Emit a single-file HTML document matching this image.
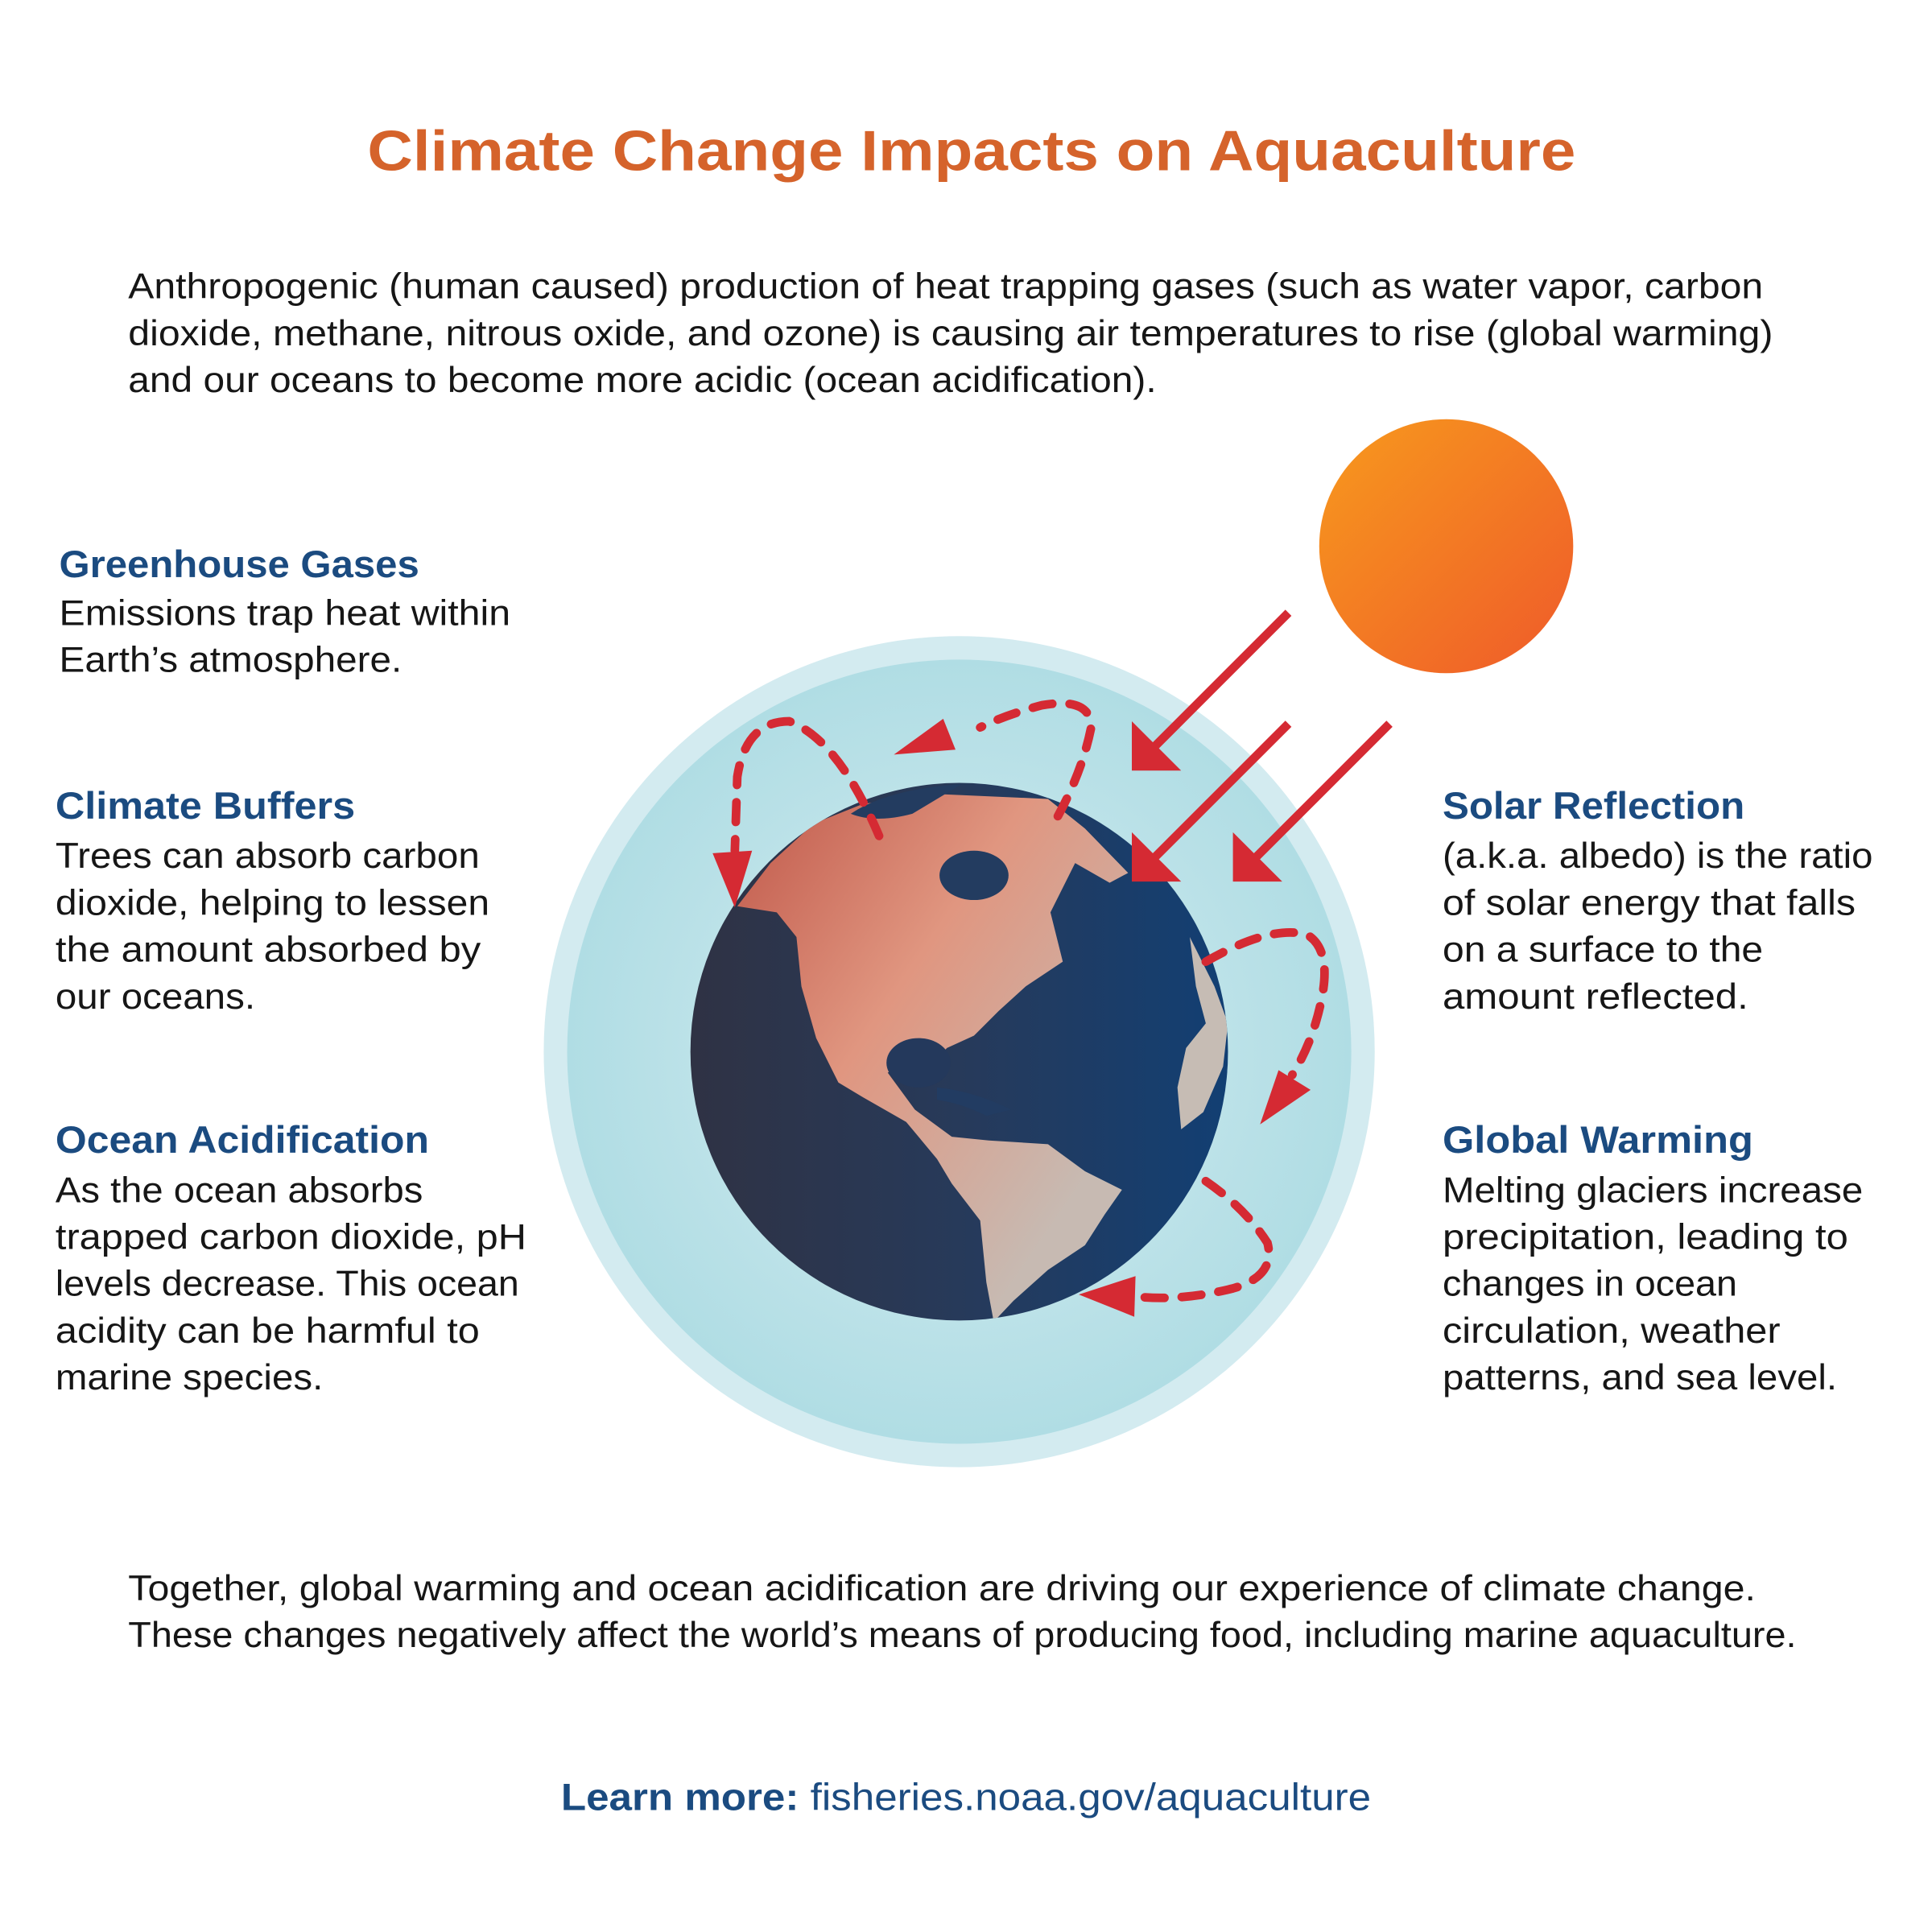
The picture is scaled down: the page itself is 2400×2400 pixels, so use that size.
<!DOCTYPE html>
<html><head><meta charset="utf-8"><style>
html,body{margin:0;padding:0;background:#fff;}
svg{display:block;}
text{font-family:"Liberation Sans",sans-serif;}
.b{font-size:29px;fill:#161616;}
.h{font-size:31px;font-weight:bold;fill:#1b4b80;}
</style></head><body>
<svg width="2400" height="2400" viewBox="0 0 1567 1567" xmlns="http://www.w3.org/2000/svg">
<defs>
<radialGradient id="atm" cx="0.5" cy="0.5" r="0.5">
<stop offset="0.6" stop-color="#bfe3e9"/><stop offset="1" stop-color="#b0dde4"/>
</radialGradient>
<linearGradient id="sea" x1="0" y1="0" x2="1" y2="0">
<stop offset="0" stop-color="#2f3244"/><stop offset="0.5" stop-color="#273a5a"/><stop offset="1" stop-color="#123f73"/>
</linearGradient>
<linearGradient id="land2" gradientUnits="userSpaceOnUse" x1="600" y1="680" x2="920" y2="900">
<stop offset="0" stop-color="#c45f50"/><stop offset="0.45" stop-color="#e09680"/><stop offset="1" stop-color="#c7bab2"/>
</linearGradient>
<linearGradient id="sun" x1="0" y1="0" x2="1" y2="1">
<stop offset="0" stop-color="#f79a1d"/><stop offset="1" stop-color="#ef5a2a"/>
</linearGradient>
<clipPath id="ec"><circle cx="778" cy="853" r="218"/></clipPath>
</defs>

<text x="788" y="138" text-anchor="middle" font-size="46" font-weight="bold" fill="#d5632b" textLength="980" lengthAdjust="spacingAndGlyphs">Climate Change Impacts on Aquaculture</text>

<text class="b" x="104" y="242" textLength="1326" lengthAdjust="spacingAndGlyphs">Anthropogenic (human caused) production of heat trapping gases (such as water vapor, carbon</text>
<text class="b" x="104" y="280" textLength="1334" lengthAdjust="spacingAndGlyphs">dioxide, methane, nitrous oxide, and ozone) is causing air temperatures to rise (global warming)</text>
<text class="b" x="104" y="318" textLength="834" lengthAdjust="spacingAndGlyphs">and our oceans to become more acidic (ocean acidification).</text>

<text class="h" x="48" y="468" textLength="292" lengthAdjust="spacingAndGlyphs">Greenhouse Gases</text>
<text class="b" x="48" y="507" textLength="366" lengthAdjust="spacingAndGlyphs">Emissions trap heat within</text>
<text class="b" x="48" y="545" textLength="278" lengthAdjust="spacingAndGlyphs">Earth’s atmosphere.</text>

<text class="h" x="45" y="664" textLength="243" lengthAdjust="spacingAndGlyphs">Climate Buffers</text>
<text class="b" x="45" y="704" textLength="344" lengthAdjust="spacingAndGlyphs">Trees can absorb carbon</text>
<text class="b" x="45" y="742" textLength="352" lengthAdjust="spacingAndGlyphs">dioxide, helping to lessen</text>
<text class="b" x="45" y="780" textLength="345" lengthAdjust="spacingAndGlyphs">the amount absorbed by</text>
<text class="b" x="45" y="818" textLength="162" lengthAdjust="spacingAndGlyphs">our oceans.</text>

<text class="h" x="45" y="935" textLength="303" lengthAdjust="spacingAndGlyphs">Ocean Acidification</text>
<text class="b" x="45" y="975" textLength="298" lengthAdjust="spacingAndGlyphs">As the ocean absorbs</text>
<text class="b" x="45" y="1013" textLength="382" lengthAdjust="spacingAndGlyphs">trapped carbon dioxide, pH</text>
<text class="b" x="45" y="1051" textLength="376" lengthAdjust="spacingAndGlyphs">levels decrease. This ocean</text>
<text class="b" x="45" y="1089" textLength="344" lengthAdjust="spacingAndGlyphs">acidity can be harmful to</text>
<text class="b" x="45" y="1127" textLength="217" lengthAdjust="spacingAndGlyphs">marine species.</text>

<text class="h" x="1170" y="664" textLength="245" lengthAdjust="spacingAndGlyphs">Solar Reflection</text>
<text class="b" x="1170" y="704" textLength="349" lengthAdjust="spacingAndGlyphs">(a.k.a. albedo) is the ratio</text>
<text class="b" x="1170" y="742" textLength="335" lengthAdjust="spacingAndGlyphs">of solar energy that falls</text>
<text class="b" x="1170" y="780" textLength="260" lengthAdjust="spacingAndGlyphs">on a surface to the</text>
<text class="b" x="1170" y="818" textLength="248" lengthAdjust="spacingAndGlyphs">amount reflected.</text>

<text class="h" x="1170" y="935" textLength="252" lengthAdjust="spacingAndGlyphs">Global Warming</text>
<text class="b" x="1170" y="975" textLength="341" lengthAdjust="spacingAndGlyphs">Melting glaciers increase</text>
<text class="b" x="1170" y="1013" textLength="329" lengthAdjust="spacingAndGlyphs">precipitation, leading to</text>
<text class="b" x="1170" y="1051" textLength="239" lengthAdjust="spacingAndGlyphs">changes in ocean</text>
<text class="b" x="1170" y="1089" textLength="274" lengthAdjust="spacingAndGlyphs">circulation, weather</text>
<text class="b" x="1170" y="1127" textLength="320" lengthAdjust="spacingAndGlyphs">patterns, and sea level.</text>

<!-- globe -->
<circle cx="778" cy="853" r="337" fill="#d3ebf0"/>
<circle cx="778" cy="853" r="318" fill="url(#atm)"/>
<circle cx="778" cy="853" r="218" fill="url(#sea)"/>
<g clip-path="url(#ec)">
<path fill="url(#land2)" d="M598,735 L625,700 L660,668 L700,652 L760,644 L850,648 L880,672 L915,708 L900,716 L872,700 L852,740 L862,780 L832,800 L810,820 L790,840 L768,850 L752,868 L740,858 L720,870 L742,900 L772,922 L802,925 L850,928 L880,950 L910,965 L896,985 L880,1010 L850,1030 L822,1055 L806,1072 L800,1040 L795,990 L772,960 L760,940 L735,910 L700,890 L680,878 L662,842 L650,800 L646,760 L630,740 Z"/>
<path fill="#c6bcb4" d="M965,760 L985,800 L996,830 L992,865 L976,902 L958,916 L955,882 L962,850 L978,830 L970,800 Z"/>
<ellipse cx="790" cy="710" rx="28" ry="20" fill="#233c60"/>
<ellipse cx="745" cy="862" rx="26" ry="20" fill="#24395c"/>
<path fill="#233c60" d="M690,660 Q720,640 780,636 L740,660 Q710,668 690,660 Z"/>
<path fill="#223c62" d="M760,882 Q790,885 820,900 L800,905 Q780,895 760,892 Z"/>
</g>

<!-- sun -->
<circle cx="1173" cy="443" r="103" fill="url(#sun)"/>

<!-- solar arrows -->
<g stroke="#d52a33" stroke-width="7" fill="none">
<line x1="1045" y1="497" x2="935" y2="607"/>
<line x1="1045" y1="587" x2="935" y2="697"/>
<line x1="1127" y1="587" x2="1017" y2="697"/>
</g>
<g fill="#d52a33">
<polygon points="918,625 918,585 958,625"/>
<polygon points="918,715 918,675 958,715"/>
<polygon points="1000,715 1000,675 1040,715"/>
</g>

<!-- dashed arcs -->
<g stroke="#d52a33" stroke-width="7" fill="none" stroke-linecap="round" stroke-dasharray="16 14">
<path d="M713,678 Q680,600 640,585 Q605,585 598,630 L596,690"/>
<path d="M858,662 Q878,625 885,590 Q885,565 845,572 Q815,580 795,590"/>
<path d="M978,780 Q1030,750 1060,758 Q1080,770 1072,810 Q1065,845 1048,872"/>
<path d="M978,958 Q1010,980 1028,1008 Q1035,1035 1000,1045 Q960,1055 925,1052"/>
</g>
<g fill="#d52a33">
<polygon points="578,692 610,690 596,736"/>
<polygon points="725,612 765,583 775,608"/>
<polygon points="1037,868 1063,884 1022,912"/>
<polygon points="875,1050 921,1035 920,1068"/>
</g>

<text class="b" x="104" y="1298" textLength="1320" lengthAdjust="spacingAndGlyphs">Together, global warming and ocean acidification are driving our experience of climate change.</text>
<text class="b" x="104" y="1336" textLength="1353" lengthAdjust="spacingAndGlyphs">These changes negatively affect the world’s means of producing food, including marine aquaculture.</text>

<text x="455" y="1468" font-size="31" fill="#1b4b80" textLength="657" lengthAdjust="spacingAndGlyphs"><tspan font-weight="bold">Learn more:</tspan> fisheries.noaa.gov/aquaculture</text>
</svg>
</body></html>
